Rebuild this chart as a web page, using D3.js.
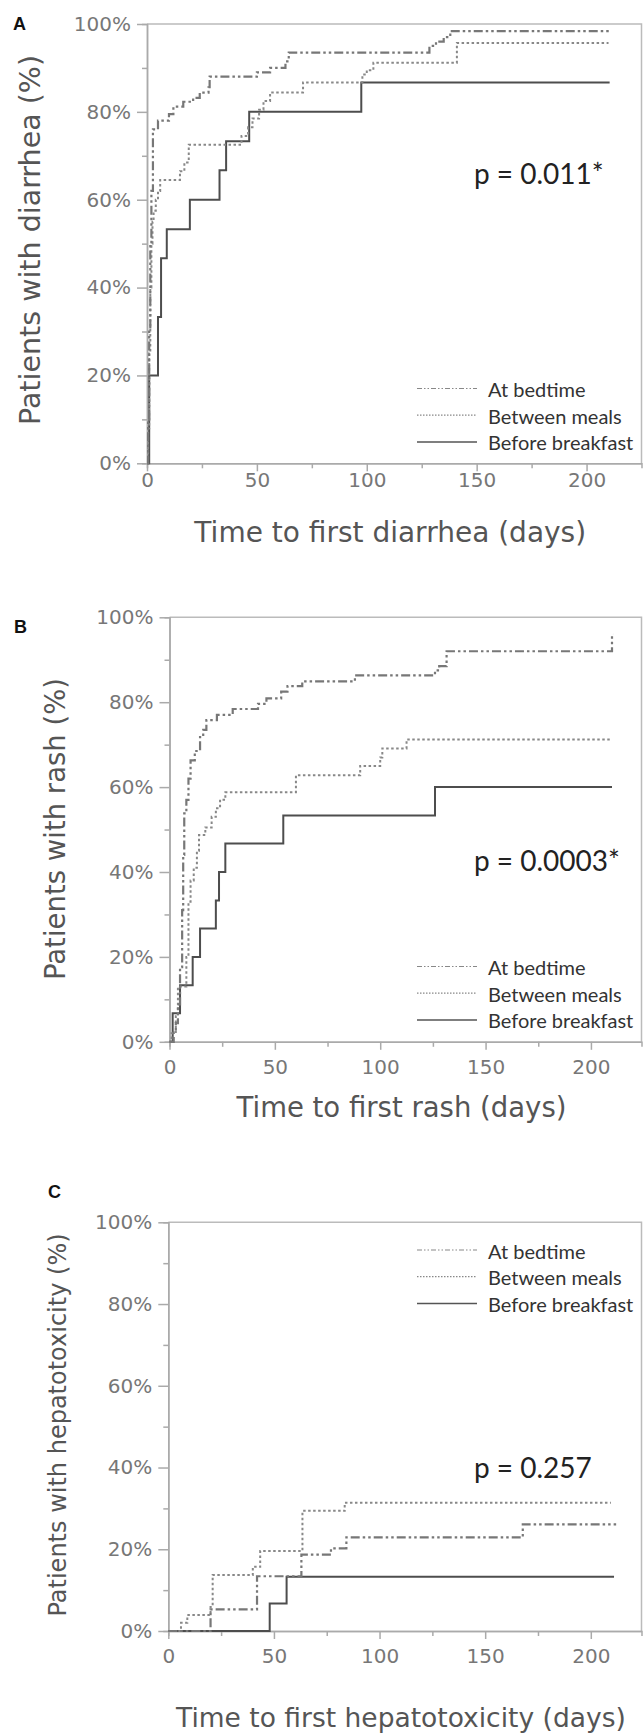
<!DOCTYPE html>
<html>
<head>
<meta charset="utf-8">
<script src="https://cdn.jsdelivr.net/npm/d3@7/dist/d3.min.js"></script>
<style>
  body { margin: 0; background: #fff; }
  svg { display: block; }
  .axis text { font-family: "DejaVu Sans", Verdana, sans-serif; fill: #777; }
  .axis path, .axis line { stroke: #aaa; stroke-width: 1.5; }
</style>
</head>
<body>
<script>
// Groups (legend order) and p values
var groups = ["At bedtime", "Between meals", "Before breakfast"];
var pValues = ["p = 0.011*", "p = 0.0003*", "p = 0.257"];
var yTicks = [0, 20, 40, 60, 80, 100];
var yMinor = [10, 30, 50, 70, 90];
var xTicks = [0, 50, 100, 150, 200];
var xMinor = [25, 75, 125, 175];

// Cumulative incidence, [day, %]
var diarrheaBedtime = [[0,0],[0.5,10],[1,30],[1.5,50],[2,62],[2.7,76],[5,78],[10,79.5],[12,81.2],[16.5,82.3],[21,83.2],[24,84.4],[28,85.6],[28.5,88],[50,89],[56,90],[63,91.5],[64.5,93.5],[128.5,95],[131.5,96],[135,97],[138,98.4],[210.5,98.4]];
var diarrheaMeals = [[0,0],[0.5,8],[1,25],[1.5,40],[2,50],[2.5,55],[3,57.5],[4,60],[5,62],[6,64.5],[15,66.5],[17,68.5],[19,72.5],[43,74.5],[46,76.5],[48,78.5],[51,80.5],[53,82.5],[56,84.4],[71,86.7],[98,88.5],[100,89.5],[103,91.2],[141,95.7],[210,95.7]];
var diarrheaBreakfast = [[0,0],[1,20],[5,33.3],[6.4,46.7],[9,53.3],[19.5,60],[33,66.7],[36,73.3],[46.5,80],[97.5,86.7],[210.5,86.7]];

var rashBedtime = [[0,0],[2,2.2],[3,4.4],[4,8.8],[5,17.6],[6,31],[6.5,44],[7,53.8],[8,57],[9,62],[10,66.3],[12,68.5],[14.5,71.8],[16,73.5],[17.5,75.8],[22.5,77],[30,78.4],[42,79.6],[46,80.9],[53,82.5],[56,83.8],[63,84.9],[88,86.3],[126,87.5],[128,88.5],[131.5,92],[210,96],[210.5,96]];
var rashMeals = [[0,0],[1,2],[3,6],[4,13],[8,20],[9,33],[10,38],[11.5,41],[13,45],[14,48.7],[17,50.5],[20,53],[22,55],[24,57],[26.5,58.8],[60,62.8],[90.5,65],[100,67],[101,69.1],[112.5,71.2],[210,71.2]];
var rashBreakfast = [[0,0],[1.5,6.7],[5,13.3],[11,20],[14.5,26.7],[22,33.3],[23.5,40],[26.5,46.7],[54,53.3],[126,60],[210,60]];

var hepatoBedtime = [[0,0],[20,5.3],[42,13.4],[63,18.7],[77,20.2],[84.3,22.9],[167.8,26.1],[212,26.1]];
var hepatoMeals = [[0,0],[6,2],[9,3.9],[20,5.9],[21,13.7],[40,15.7],[43.5,19.6],[63.5,29.4],[83.5,31.4],[209.5,31.4]];
var hepatoBreakfast = [[0,0],[48,6.7],[56,13.3],[211,13.3]];

window.onload = function(){
    var w = 643, h = 1735;

    var svg = d3.select("body").append("svg")
        .attr("width", w)
        .attr("height", h);

    // line look for the three groups: chart and legend
    var lineStyles = [
        {color: "#777", width: 2.2, dash: "9,3,2.5,3,2.5,3"},
        {color: "#888", width: 2, dash: "2.5,2.5"},
        {color: "#4d4d4d", width: 2, dash: null}
    ];
    var legendStyles = [
        {color: "#888", width: 1.2, dash: "5,2,1.5,2,1.5,2"},
        {color: "#888", width: 1.2, dash: "1.5,1.5"},
        {color: "#555", width: 1.5, dash: null}
    ];

    var panels = [
        {letter: "A", lx: 13, ly: 30, series: [diarrheaBedtime, diarrheaMeals, diarrheaBreakfast],
         yTitle: "Patients with diarrhea (%)", yTitleSize: 28.5, yTitleX: 40, yTitleY: 240,
         xTitle: "Time to first diarrhea (days)", xTitleSize: 28, xTitleY: 542,
         left: 147, right: 641.5, top: 24, bottom: 463.3, xMax: 225,
         legendTop: 390, pY: 184, labelGap: 10},
        {letter: "B", lx: 14, ly: 633, series: [rashBedtime, rashMeals, rashBreakfast],
         yTitle: "Patients with rash (%)", yTitleSize: 27.5, yTitleX: 65, yTitleY: 829,
         xTitle: "Time to first rash (days)", xTitleSize: 27.5, xTitleY: 1117,
         left: 169.5, right: 641.5, top: 617.3, bottom: 1041.8, xMax: 224,
         legendTop: 968, pY: 871, labelGap: 18},
        {letter: "C", lx: 48, ly: 1198, series: [hepatoBedtime, hepatoMeals, hepatoBreakfast],
         yTitle: "Patients with hepatotoxicity (%)", yTitleSize: 24, yTitleX: 66, yTitleY: 1425,
         xTitle: "Time to first hepatotoxicity (days)", xTitleSize: 26.5, xTitleY: 1727,
         left: 168.3, right: 641.5, top: 1222.3, bottom: 1631, xMax: 224,
         legendTop: 1251.5, pY: 1478, labelGap: 18}
    ];

    panels.forEach(function(p, pi){
        var g = svg.append("g").attr("class", "panel");

        var x = d3.scaleLinear().domain([0, p.xMax]).range([p.left, p.right]);
        var y = d3.scaleLinear().domain([0, 100]).range([p.bottom, p.top]);

        // frame on top and right
        g.append("path")
            .attr("d", "M" + p.left + "," + p.top + "H" + p.right + "V" + p.bottom)
            .attr("fill", "none")
            .attr("stroke", "#bbb")
            .attr("stroke-width", 1.5);

        // y axis, minor then major
        g.append("g").attr("class", "axis")
            .attr("transform", "translate(" + p.left + ",0)")
            .call(d3.axisLeft(y).tickValues(yMinor).tickSize(5).tickFormat(""));
        g.append("g").attr("class", "axis")
            .attr("transform", "translate(" + p.left + ",0)")
            .call(d3.axisLeft(y).tickValues(yTicks).tickSize(10).tickSizeOuter(0).tickPadding(6)
                .tickFormat(function(d){ return d + "%"; }))
            .selectAll("text").style("font-size", "20px");

        // x axis, minor then major
        g.append("g").attr("class", "axis")
            .attr("transform", "translate(0," + p.bottom + ")")
            .call(d3.axisBottom(x).tickValues(xMinor).tickSize(5).tickFormat(""));
        g.append("g").attr("class", "axis")
            .attr("transform", "translate(0," + p.bottom + ")")
            .call(d3.axisBottom(x).tickValues(xTicks).tickSize(8).tickSizeOuter(0).tickPadding(p.labelGap - 8))
            .selectAll("text").style("font-size", "20px");

        // step curves
        var line = d3.line()
            .x(function(d){ return x(d[0]); })
            .y(function(d){ return y(d[1]); })
            .curve(d3.curveStepAfter);

        [2, 1, 0].forEach(function(i){
            var s = lineStyles[i];
            g.append("path")
                .datum(p.series[i])
                .attr("class", "km")
                .attr("d", line)
                .attr("fill", "none")
                .attr("stroke", s.color)
                .attr("stroke-width", s.width)
                .attr("stroke-dasharray", s.dash);
        });

        // legend
        var leg = g.selectAll(".legend")
            .data(groups)
            .enter()
            .append("g")
            .attr("class", "legend")
            .attr("transform", function(d, i){ return "translate(0," + (p.legendTop + i * 26.7) + ")"; });
        leg.append("line")
            .attr("x1", 417).attr("x2", 477)
            .attr("y1", -1.5).attr("y2", -1.5)
            .attr("stroke", function(d, i){ return legendStyles[i].color; })
            .attr("stroke-width", function(d, i){ return legendStyles[i].width; })
            .attr("stroke-dasharray", function(d, i){ return legendStyles[i].dash; });
        leg.append("text")
            .attr("x", 488)
            .attr("dy", "0.35em")
            .style("font-family", "Lato, 'Open Sans', sans-serif")
            .style("font-size", "20px")
            .style("fill", "#333")
            .text(function(d){ return d; });

        // p value
        g.append("text")
            .attr("x", 474)
            .attr("y", p.pY)
            .style("font-family", "Lato, 'Open Sans', sans-serif")
            .style("font-size", "28px")
            .style("fill", "#222")
            .text(pValues[pi]);

        // axis titles
        g.append("text")
            .attr("text-anchor", "middle")
            .attr("transform", "translate(" + p.yTitleX + "," + p.yTitleY + ") rotate(-90)")
            .style("font-family", "'DejaVu Sans', Verdana, sans-serif")
            .style("font-size", p.yTitleSize + "px")
            .style("fill", "#555")
            .text(p.yTitle);
        g.append("text")
            .attr("text-anchor", "middle")
            .attr("x", (p.left + p.right) / 2 - 4)
            .attr("y", p.xTitleY)
            .style("font-family", "'DejaVu Sans', Verdana, sans-serif")
            .style("font-size", p.xTitleSize + "px")
            .style("fill", "#555")
            .text(p.xTitle);

        // panel letter
        g.append("text")
            .attr("x", p.lx)
            .attr("y", p.ly)
            .style("font-family", "'Liberation Sans', Arial, sans-serif")
            .style("font-weight", "bold")
            .style("font-size", "18px")
            .style("fill", "#111")
            .text(p.letter);
    });
};
</script>
</body>
</html>
